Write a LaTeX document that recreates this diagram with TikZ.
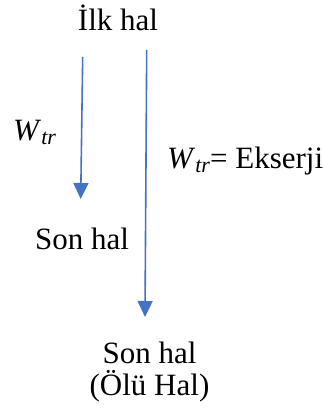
\documentclass[tikz,border=0pt]{standalone}
\usepackage{fontspec}
\setmainfont{Liberation Serif}
\usetikzlibrary{arrows.meta}
\definecolor{arrowblue}{HTML}{4472C4}
\begin{document}
\begin{tikzpicture}[x=1pt,y=1pt,
  lbl/.style={inner sep=0pt, font=\fontsize{31}{36}\selectfont},
  flow/.style={draw=arrowblue, line width=1.6pt, -{Triangle[length=16pt,width=15pt]}, arrowblue}]
\useasboundingbox (0,0) rectangle (322,-411);
\newcommand{\wtr}{\textit{W}\raisebox{-4pt}{\fontsize{22}{24}\selectfont\textit{tr}}}
\node[lbl, anchor=base] (ilk) at (118,-31) {İlk hal};
\node[lbl, anchor=base west] (w1) at (13,-141) {\wtr};
\node[lbl, anchor=base west] (w2) at (167,-169) {\wtr= Ekserji};
\node[lbl, anchor=base west] (son1) at (35,-249) {Son hal};
\node[lbl, anchor=base] (son2) at (149.5,-363) {Son hal};
\node[lbl, anchor=base] (olu) at (149.5,-395) {(Ölü Hal)};
\coordinate (a1s) at (82.7,-57);
\coordinate (a1e) at (80.7,-199);
\coordinate (a2s) at (146.7,-50);
\coordinate (a2e) at (145,-317);
\draw[flow] (a1s) -- (a1e);
\draw[flow] (a2s) -- (a2e);
\end{tikzpicture}
\end{document}
